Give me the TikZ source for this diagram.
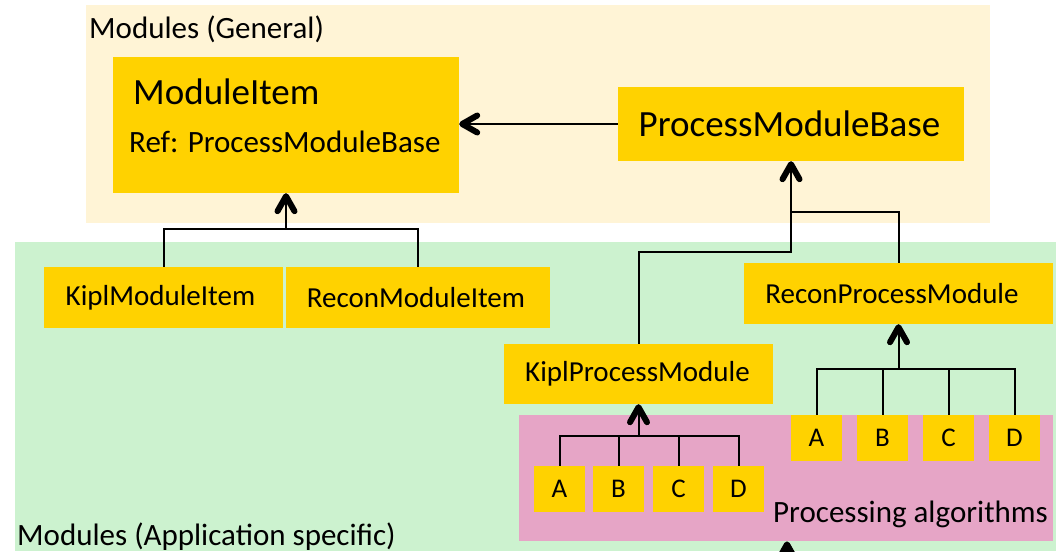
\documentclass[tikz,border=0pt]{standalone}
\usepackage{fontspec}
\setmainfont{Carlito}
\usetikzlibrary{arrows.meta}
\definecolor{genbg}{RGB}{255,244,214}
\definecolor{appbg}{RGB}{204,242,207}
\definecolor{algbg}{RGB}{230,165,198}
\definecolor{clsfill}{RGB}{255,210,0}
\tikzset{
  cls/.style={rectangle, fill=clsfill, draw=none, inner sep=0pt},
  alg/.style={cls, minimum width=51pt, minimum height=46pt, font=\fontsize{27}{30}\selectfont},
  region/.style={rectangle, draw=none, inner sep=0pt, anchor=north west},
  link/.style={line width=2pt},
  inherit/.style={link, arrows={-{Straight Barb[length=15pt,width=17pt,line width=6pt 0 1,round]}}},
  mid/.style={font=\fontsize{29}{32}\selectfont},
  big/.style={font=\fontsize{37}{40}\selectfont},
  caption/.style={font=\fontsize{31}{34}\selectfont, anchor=base west, inner sep=0pt},
}
\begin{document}
\begin{tikzpicture}[x=1pt,y=-1pt]
\useasboundingbox (0,0) rectangle (1056,551);
\clip (0,0) rectangle (1056,551);

% background regions
\node[region, fill=genbg, minimum width=904pt, minimum height=218pt] (general) at (86,5) {};
\node[region, fill=appbg, minimum width=1041pt, minimum height=309pt] (appspec) at (15,242) {};
\node[region, fill=algbg, minimum width=534pt, minimum height=126pt] (algs) at (519,415) {};

% region captions
\node[caption] (gentitle) at (89,39) {Modules (General)};
\node[caption] (apptitle) at (17,545) {Modules (Application specific)};
\node[caption] (algtitle) at (773,522) {Processing algorithms};

% general classes
\node[cls, minimum width=346pt, minimum height=136pt] (mi) at (286,125) {};
\node[anchor=base west, inner sep=0pt, big] (mititle) at (133,104) {ModuleItem};
\node[anchor=base west, inner sep=0pt, caption] (miref) at (129,152) {Ref: ProcessModuleBase};
\node[cls, big, minimum width=346pt, minimum height=74pt] (pmb) at (791,124) {\hspace*{-3pt}ProcessModuleBase};

% application specific classes
\node[cls, mid, minimum width=239pt, minimum height=61pt] (kmi) at (163.5,297.5) {\hspace*{-6pt}KiplModuleItem};
\node[cls, mid, minimum width=264pt, minimum height=61pt] (rmi) at (418,297.5) {\hspace*{-4pt}ReconModuleItem};
\node[cls, mid, minimum width=269pt, minimum height=60pt] (kpm) at (638.5,374) {\raisebox{-2pt}{\hspace*{-2pt}KiplProcessModule}};
\node[cls, mid, minimum width=309pt, minimum height=61pt] (rpm) at (898.5,293.5) {\hspace*{-13pt}ReconProcessModule};

% processing algorithms
\foreach \n/\x in {A/559.5,B/618.5,C/678.5,D/738.5}
  \node[alg] (k\n) at (\x,489) {\n};
\foreach \n/\x in {A/816.5,B/882.5,C/948.5,D/1014.5}
  \node[alg] (r\n) at (\x,438) {\n};

% junction points
\coordinate (jmi) at (286,229);
\coordinate (jpmb) at (791,212);
\coordinate (jkpm) at (791,252);
\coordinate (jk) at (638.5,436);
\coordinate (jr) at (898.5,369);
\coordinate (below) at (787,600);

% connectors
\draw[inherit] (pmb.west) -- (mi.east |- pmb.west);
\draw[link] (kmi.north) |- (jmi) -| (rmi.north);
\draw[inherit] (jmi) -- (mi.south);
\draw[link] (kpm.north) |- (jkpm) -- (jpmb);
\draw[link] (rpm.north) |- (jpmb);
\draw[inherit] (jpmb) -- (pmb.south);
\draw[link] (kA.north) |- (jk) -| (kD.north);
\draw[link] (kB.north) -- (kB.north |- jk);
\draw[link] (kC.north) -- (kC.north |- jk);
\draw[inherit] (jk) -- (kpm.south);
\draw[link] (rA.north) |- (jr) -| (rD.north);
\draw[link] (rB.north) -- (rB.north |- jr);
\draw[link] (rC.north) -- (rC.north |- jr);
\draw[inherit] (jr) -- (rpm.south);
\draw[inherit] (below) -- (algs.south -| below);
\end{tikzpicture}
\end{document}
